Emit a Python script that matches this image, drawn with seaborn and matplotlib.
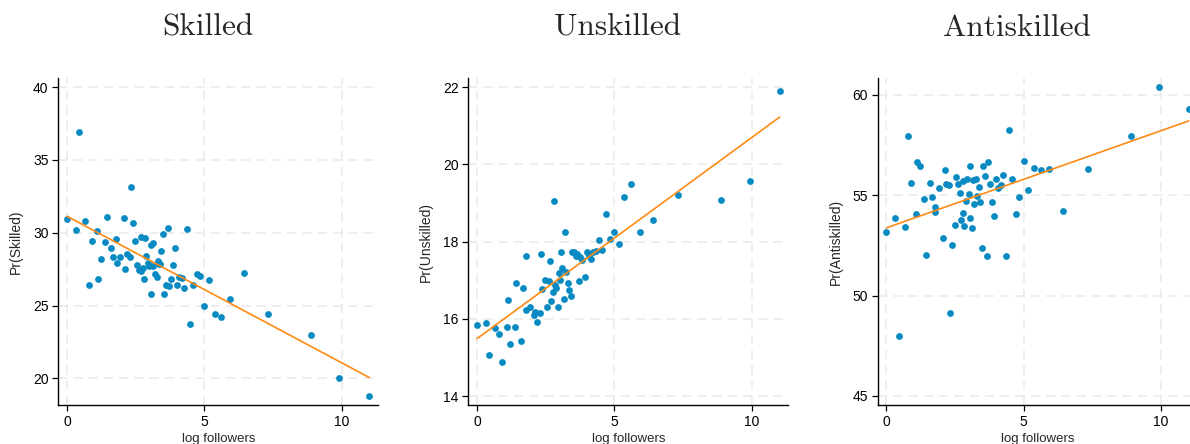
import matplotlib
matplotlib.use("Agg")
import matplotlib.pyplot as plt
import seaborn as sns
import numpy as np

# ---------------- data ----------------
x_skilled = [0, 0.33, 0.45, 0.67, 0.80, 0.91, 1.09, 1.13, 1.23, 1.38,
             1.44, 1.59, 1.69, 1.78, 1.82, 1.94, 2.08, 2.12, 2.20, 2.31,
             2.34, 2.39, 2.48, 2.56, 2.63, 2.69, 2.71, 2.78, 2.80, 2.84,
             2.89, 2.95, 3.00, 3.06, 3.07, 3.12, 3.14, 3.22, 3.26, 3.31,
             3.35, 3.40, 3.42, 3.48, 3.54, 3.60, 3.66, 3.71, 3.79, 3.85,
             3.93, 4.02, 4.09, 4.17, 4.26, 4.36, 4.48, 4.58, 4.72, 4.84,
             5.00, 5.17, 5.38, 5.61, 5.93, 6.43, 7.33, 8.89, 9.90, 11.0]
y_skilled = [30.96, 30.18, 36.93, 30.8, 26.43, 29.45, 30.11, 26.84, 28.17, 29.36,
             31.05, 28.92, 28.31, 29.59, 27.92, 28.31, 31.01, 27.53, 28.54, 28.35,
             33.16, 30.66, 29.43, 27.76, 27.44, 27.37, 29.73, 27.57, 26.84, 29.63,
             28.42, 27.9, 27.74, 29.13, 25.79, 29.27, 27.71, 27.16, 26.93, 28.03,
             27.85, 27.83, 28.74, 29.91, 25.77, 26.41, 30.34, 26.36, 26.84, 27.8,
             28.92, 26.43, 26.93, 26.89, 26.22, 30.23, 23.71, 26.38, 27.16, 27.03,
             24.99, 26.77, 24.44, 24.23, 25.42, 27.23, 24.44, 22.97, 20.0, 18.76]

x_unskilled = [0, 0.33, 0.45, 0.67, 0.80, 0.91, 1.08, 1.13, 1.21, 1.37,
               1.43, 1.59, 1.68, 1.78, 1.80, 1.93, 2.06, 2.12, 2.18, 2.29,
               2.33, 2.38, 2.46, 2.55, 2.62, 2.67, 2.71, 2.76, 2.79, 2.83,
               2.88, 2.94, 2.99, 3.03, 3.05, 3.09, 3.16, 3.20, 3.24, 3.30,
               3.35, 3.41, 3.46, 3.53, 3.59, 3.64, 3.71, 3.76, 3.83, 3.93,
               4.00, 4.07, 4.15, 4.22, 4.33, 4.45, 4.56, 4.70, 4.83, 4.99,
               5.16, 5.36, 5.60, 5.92, 6.42, 7.33, 8.89, 9.92, 11.01]
y_unskilled = [15.84, 15.9, 15.06, 15.76, 15.6, 14.89, 15.8, 16.49, 15.35, 15.79,
               16.93, 15.44, 16.79, 16.23, 17.62, 16.31, 16.09, 16.17, 15.91, 16.14,
               17.69, 16.78, 17.01, 16.3, 16.98, 17.5, 16.47, 16.69, 19.04, 16.89,
               16.81, 16.31, 17.19, 17.01, 17.74, 17.31, 16.51, 18.25, 17.22, 16.94,
               16.75, 16.58, 17.72, 17.74, 17.63, 17.69, 16.99, 17.59, 17.52, 17.08,
               17.73, 17.63, 17.54, 17.74, 17.76, 18.03, 17.78, 18.72, 18.07, 18.26,
               17.94, 19.16, 19.49, 18.24, 18.55, 19.22, 19.07, 19.58, 21.9]

x_antiskilled = [0, 0.33, 0.46, 0.67, 0.80, 0.91, 1.08, 1.13, 1.21, 1.37,
                 1.43, 1.59, 1.67, 1.78, 1.78, 1.93, 2.06, 2.14, 2.18, 2.29,
                 2.33, 2.39, 2.48, 2.55, 2.62, 2.67, 2.71, 2.77, 2.79, 2.83,
                 2.88, 2.94, 3.00, 3.05, 3.06, 3.11, 3.16, 3.20, 3.25, 3.30,
                 3.36, 3.41, 3.47, 3.52, 3.59, 3.65, 3.71, 3.77, 3.85, 3.92,
                 4.00, 4.07, 4.16, 4.26, 4.36, 4.45, 4.58, 4.71, 4.84, 4.99,
                 5.17, 5.38, 5.61, 5.93, 6.43, 7.33, 8.90, 9.93, 11.0]
y_antiskilled = [53.17, 53.89, 47.97, 53.41, 57.94, 55.63, 54.05, 56.64, 56.46, 54.83,
                 52.03, 55.6, 54.9, 54.44, 54.19, 55.38, 52.89, 56.28, 55.55, 55.51,
                 49.14, 52.54, 53.54, 55.91, 55.56, 55.13, 53.75, 55.71, 54.1, 53.47,
                 54.73, 55.8, 55.05, 53.85, 56.45, 53.39, 55.75, 54.57, 55.83, 54.98,
                 55.43, 54.67, 52.36, 56.46, 55.95, 51.96, 56.66, 55.55, 54.68, 53.95,
                 55.81, 55.38, 55.53, 56.01, 51.98, 58.24, 55.8, 54.09, 54.9, 56.73,
                 55.27, 56.38, 56.25, 56.33, 54.22, 56.33, 57.94, 60.4, 59.32]

titles = ["Skilled", "Unskilled", "Antiskilled"]
ylabels = ["Pr(Skilled)", "Pr(Unskilled)", "Pr(Antiskilled)"]
xlabel = "log followers"
x_ticks = [0, 5, 10]
y_ticks = [[20, 25, 30, 35, 40], [14, 16, 18, 20, 22], [45, 50, 55, 60]]

# ---------------- style ----------------
sns.set_style("ticks")
plt.rcParams["font.family"] = ["Liberation Sans", "DejaVu Sans"]

W, H = 1190, 444
fig = plt.figure(figsize=(W / 100, H / 100), dpi=100)

blue = "#0a8ac2"
orange = "#ff8a14"

panels = [
    (x_skilled, y_skilled, 58.3, (18.17, 40.6), 208),
    (x_unskilled, y_unskilled, 468.3, (13.77, 22.23), 618),
    (x_antiskilled, y_antiskilled, 877.7, (44.55, 60.83), 1017),
]

for i, (xs, ys, left_px, ylim, title_px) in enumerate(panels):
    ax = fig.add_axes([left_px / W, (H - 405) / H, 320 / W, 326.7 / H])
    sns.regplot(x=np.array(xs), y=np.array(ys), ax=ax, ci=None,
                scatter_kws=dict(s=24, color=blue, linewidths=0, alpha=1),
                line_kws=dict(color=orange, lw=1.2))
    ax.set_xlim(-0.317, 11.33)
    ax.set_ylim(*ylim)
    ax.set_xticks(x_ticks)
    ax.set_yticks(y_ticks[i])
    ax.grid(True, color="#e9e9e9", linestyle=(0, (6, 4)), linewidth=1.1)
    ax.set_axisbelow(True)
    for s in ["top", "right"]:
        ax.spines[s].set_visible(False)
    for s in ["left", "bottom"]:
        ax.spines[s].set_color("black")
        ax.spines[s].set_linewidth(1.0)
    ax.tick_params(axis="both", direction="out", length=4, width=0.9,
                   color="black", labelsize=10, labelcolor="black", pad=3)
    ax.set_xlabel(xlabel, fontsize=9.5, labelpad=3)
    ax.set_ylabel(ylabels[i], fontsize=10, labelpad=7)
    fig.text(title_px / W, 1 - 35.5 / H, titles[i], family="cmr10",
             fontsize=22.5, ha="center", va="baseline")

fig.savefig("out.png", dpi=100)
